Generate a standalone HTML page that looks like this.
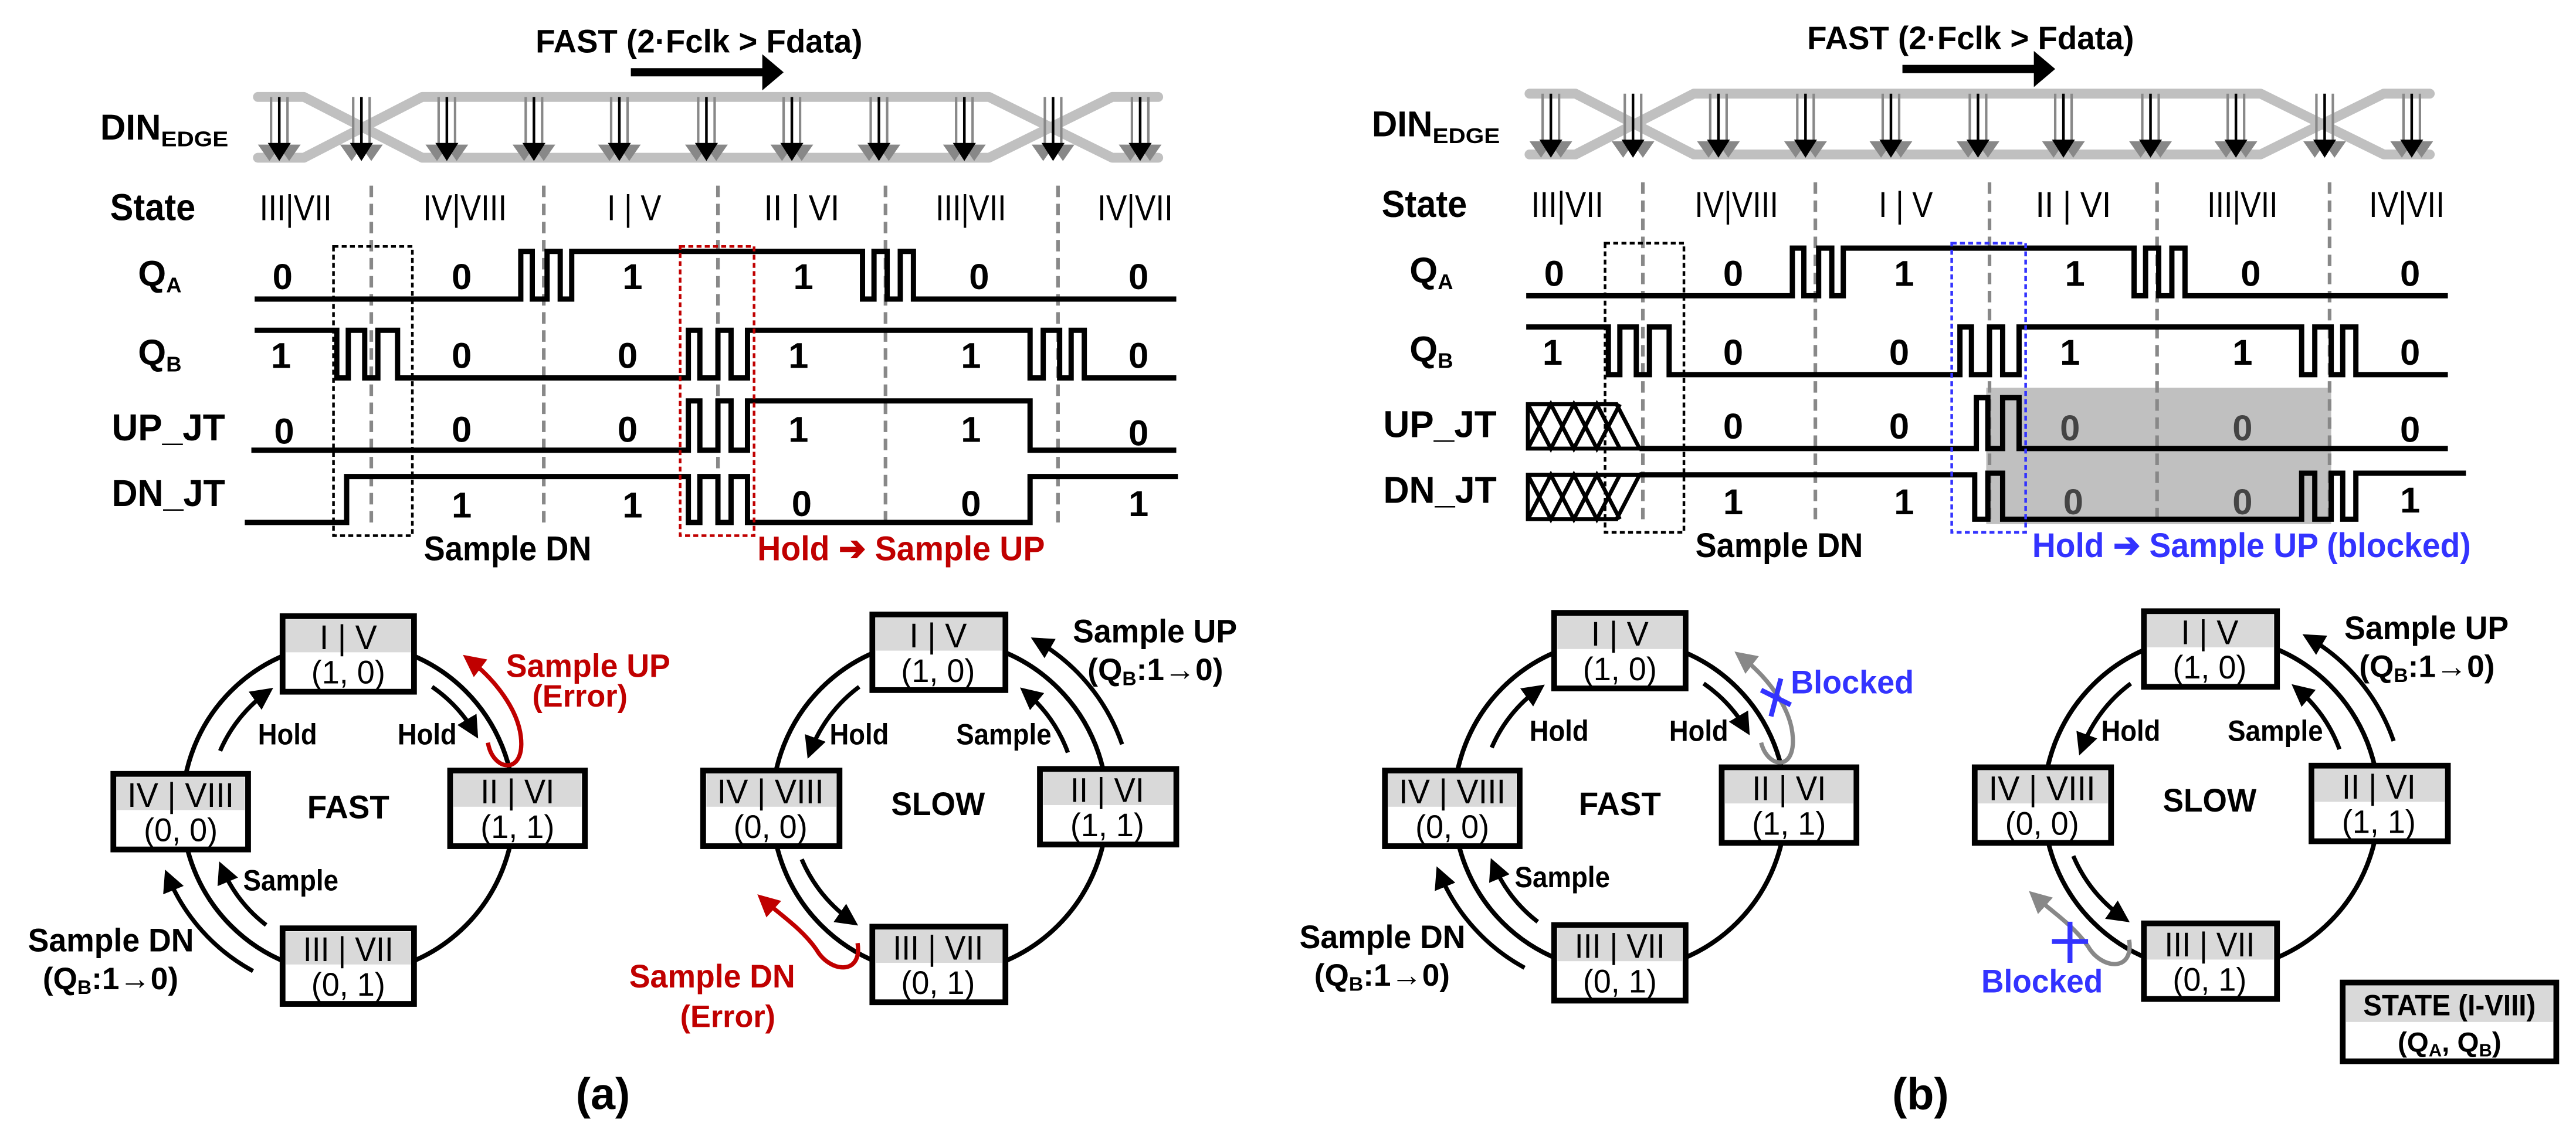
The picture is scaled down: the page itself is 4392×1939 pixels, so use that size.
<!DOCTYPE html>
<html><head><meta charset="utf-8"><style>
html,body{margin:0;padding:0;background:#fff;}
svg{display:block;}
text{font-family:"Liberation Sans Narrow","Liberation Sans",sans-serif;font-weight:bold;fill:#000;}
.r{font-weight:normal;}
</style></head><body>
<svg width="4392" height="1939" viewBox="0 0 1568 692" preserveAspectRatio="none" xmlns="http://www.w3.org/2000/svg">
<defs>
<marker id="ak" viewBox="0 0 10 10" refX="7" refY="5" markerWidth="5.2" markerHeight="5.2" orient="auto" markerUnits="strokeWidth"><path d="M0,0 L10,5 L0,10 z" fill="#000"/></marker>
<marker id="ar" viewBox="0 0 10 10" refX="7" refY="5" markerWidth="5.2" markerHeight="5.2" orient="auto" markerUnits="strokeWidth"><path d="M0,0 L10,5 L0,10 z" fill="#c00000"/></marker>
<marker id="ag" viewBox="0 0 10 10" refX="7" refY="5" markerWidth="5.2" markerHeight="5.2" orient="auto" markerUnits="strokeWidth"><path d="M0,0 L10,5 L0,10 z" fill="#888"/></marker>
<g id="clk">
<line x1="-5" y1="59" x2="-5" y2="90" stroke="#888" stroke-width="1.5"/>
<line x1="5" y1="59" x2="5" y2="90" stroke="#888" stroke-width="1.5"/>
<polygon points="-13,88 1,88 -6,98" fill="#888"/>
<polygon points="-1,88 13,88 6,98" fill="#888"/>
<line x1="0" y1="59" x2="0" y2="90" stroke="#000" stroke-width="1.6"/>
<polygon points="-7,87 7,87 0,98" fill="#000"/>
</g>
<g id="common">
<line x1="384" y1="44" x2="466" y2="44" stroke="#000" stroke-width="5"/>
<polygon points="464,33 477,44 464,55" fill="#000"/>
<path d="M157,59 H185 L257,96 H602 L677,59 H705 M157,96 H185 L257,59 H602 L677,96 H705" fill="none" stroke="#c0c0c0" stroke-width="6" stroke-linecap="round" stroke-linejoin="round"/>
<use href="#clk" x="170"/><use href="#clk" x="220"/><use href="#clk" x="272"/><use href="#clk" x="325"/><use href="#clk" x="377"/><use href="#clk" x="430"/><use href="#clk" x="482"/><use href="#clk" x="535"/><use href="#clk" x="587"/><use href="#clk" x="641"/><use href="#clk" x="694"/>
<g stroke="#888" stroke-width="2.2" stroke-dasharray="7,4">
<line x1="226" y1="113" x2="226" y2="322"/><line x1="331" y1="113" x2="331" y2="322"/><line x1="437" y1="113" x2="437" y2="322"/><line x1="539" y1="113" x2="539" y2="322"/><line x1="644" y1="113" x2="644" y2="322"/>
</g>
<path d="M155,182 H317 V153 H324 V182 H333 V153 H341 V182 H348 V153 H525 V182 H532 V153 H540 V182 H548 V153 H556 V182 H716" fill="none" stroke="#000" stroke-width="3.2"/>
<path d="M155,201 H205 V230 H212 V201 H222 V230 H230 V201 H242 V230 H419 V201 H426 V230 H437 V201 H445 V230 H455 V201 H627 V230 H635 V201 H645 V230 H652 V201 H660 V230 H716" fill="none" stroke="#000" stroke-width="3.2"/>
<rect x="203" y="150" width="48" height="176" fill="none" stroke="#000" stroke-width="1.6" stroke-dasharray="3,2"/>
<circle cx="212" cy="492" r="101" fill="none" stroke="#000" stroke-width="2.8"/>
<g fill="none" stroke="#000" stroke-width="2.6">
<path d="M134,457 A86,86 0 0 1 163,421" marker-end="url(#ak)"/>
<path d="M263,418 A88,88 0 0 1 289,446" marker-end="url(#ak)"/>
<path d="M162,563 A86,86 0 0 1 135,528" marker-end="url(#ak)"/>
<path d="M154,591 A116,116 0 0 1 102,533" marker-end="url(#ak)"/>
</g>
<circle cx="572" cy="491" r="102" fill="none" stroke="#000" stroke-width="2.8"/>
<g fill="none" stroke="#000" stroke-width="2.6">
<path d="M523,418 A87,87 0 0 0 493,458" marker-end="url(#ak)"/>
<path d="M650,458 A86,86 0 0 0 624,421" marker-end="url(#ak)"/>
<path d="M683,453 A117,117 0 0 0 631,390" marker-end="url(#ak)"/>
<path d="M488,523 A88,88 0 0 0 519,561" marker-end="url(#ak)"/>
</g>
</g>
<g id="boxes">
<g stroke="#000" stroke-width="3.5">
<rect x="172" y="375" width="80" height="46" fill="#fff"/>
<rect x="274" y="469" width="82" height="46" fill="#fff"/>
<rect x="69" y="471" width="82" height="46" fill="#fff"/>
<rect x="172" y="565" width="80" height="46" fill="#fff"/>
<rect x="531" y="374" width="81" height="46" fill="#fff"/>
<rect x="633" y="468" width="83" height="46" fill="#fff"/>
<rect x="428" y="469" width="83" height="46" fill="#fff"/>
<rect x="531" y="564" width="81" height="46" fill="#fff"/>
</g>
<g fill="#d9d9d9">
<rect x="174" y="377" width="76" height="20"/>
<rect x="276" y="471" width="78" height="20"/>
<rect x="71" y="473" width="78" height="20"/>
<rect x="174" y="567" width="76" height="20"/>
<rect x="533" y="376" width="77" height="20"/>
<rect x="635" y="470" width="79" height="20"/>
<rect x="430" y="471" width="79" height="20"/>
<rect x="533" y="566" width="77" height="20"/>
</g>
</g>
</defs>

<!-- ============ PANEL A ============ -->
<use href="#common"/>
<path d="M153,274 H419 V244 H426 V274 H437 V244 H445 V274 H455 V244 H627 V274 H716" fill="none" stroke="#000" stroke-width="3.2"/>
<path d="M149,318 H211 V290 H419 V318 H426 V290 H437 V318 H445 V290 H455 V318 H627 V290 H717" fill="none" stroke="#000" stroke-width="3.2"/>
<rect x="414" y="150" width="45" height="176" fill="none" stroke="#c00000" stroke-width="1.6" stroke-dasharray="3,2"/>
<path d="M297,452 C300,470 320,472 317,448 C315,432 302,414 285,401" fill="none" stroke="#c00000" stroke-width="2.6" marker-end="url(#ar)"/>
<path d="M522,574 C525,594 505,592 497,578 C488,565 474,556 464,547" fill="none" stroke="#c00000" stroke-width="2.6" marker-end="url(#ar)"/>
<use href="#boxes"/>

<g>
<text x="326" y="32" font-size="20" textLength="199" lengthAdjust="spacingAndGlyphs">FAST (2·Fclk &gt; Fdata)</text>
<text x="61" y="85" font-size="22" textLength="37" lengthAdjust="spacingAndGlyphs">DIN</text>
<text x="98" y="89" font-size="13" textLength="41" lengthAdjust="spacingAndGlyphs">EDGE</text>
<text x="67" y="134" font-size="23" textLength="52" lengthAdjust="spacingAndGlyphs">State</text>
<g text-anchor="middle">
<text class="r" x="180" y="134" font-size="22" textLength="44" lengthAdjust="spacingAndGlyphs">III|VII</text>
<text class="r" x="283" y="134" font-size="22" textLength="51" lengthAdjust="spacingAndGlyphs">IV|VIII</text>
<text class="r" x="386" y="134" font-size="22" textLength="33" lengthAdjust="spacingAndGlyphs">I | V</text>
<text class="r" x="488" y="134" font-size="22" textLength="46" lengthAdjust="spacingAndGlyphs">II | VI</text>
<text class="r" x="591" y="134" font-size="22" textLength="43" lengthAdjust="spacingAndGlyphs">III|VII</text>
<text class="r" x="691" y="134" font-size="22" textLength="46" lengthAdjust="spacingAndGlyphs">IV|VII</text>
</g>
<text x="84" y="174" font-size="22">Q<tspan font-size="13" dy="4">A</tspan></text>
<text x="84" y="222" font-size="22">Q<tspan font-size="13" dy="4">B</tspan></text>
<text x="68" y="268" font-size="23" textLength="69" lengthAdjust="spacingAndGlyphs">UP_JT</text>
<text x="68" y="308" font-size="23" textLength="69" lengthAdjust="spacingAndGlyphs">DN_JT</text>
<g text-anchor="middle" font-size="22">
<text x="172" y="176">0</text><text x="281" y="176">0</text><text x="385" y="176">1</text><text x="489" y="176">1</text><text x="596" y="176">0</text><text x="693" y="176">0</text>
<text x="171" y="224">1</text><text x="281" y="224">0</text><text x="382" y="224">0</text><text x="486" y="224">1</text><text x="591" y="224">1</text><text x="693" y="224">0</text>
<text x="173" y="270">0</text><text x="281" y="269">0</text><text x="382" y="269">0</text><text x="486" y="269">1</text><text x="591" y="269">1</text><text x="693" y="271">0</text>
<text x="281" y="315">1</text><text x="385" y="315">1</text><text x="488" y="314">0</text><text x="591" y="314">0</text><text x="693" y="314">1</text>
</g>
<text x="258" y="341" font-size="21" textLength="102" lengthAdjust="spacingAndGlyphs">Sample DN</text>
<text x="461" y="341" font-size="21" style="fill:#c00000" textLength="175" lengthAdjust="spacingAndGlyphs">Hold ➔ Sample UP</text>

<g text-anchor="middle">
<text class="r" x="212" y="395" font-size="21" textLength="35" lengthAdjust="spacingAndGlyphs">I | V</text>
<text class="r" x="212" y="416" font-size="20" textLength="45" lengthAdjust="spacingAndGlyphs">(1, 0)</text>
<text class="r" x="315" y="489" font-size="21" textLength="45" lengthAdjust="spacingAndGlyphs">II | VI</text>
<text class="r" x="315" y="510" font-size="20" textLength="45" lengthAdjust="spacingAndGlyphs">(1, 1)</text>
<text class="r" x="110" y="491" font-size="21" textLength="65" lengthAdjust="spacingAndGlyphs">IV | VIII</text>
<text class="r" x="110" y="512" font-size="20" textLength="45" lengthAdjust="spacingAndGlyphs">(0, 0)</text>
<text class="r" x="212" y="585" font-size="21" textLength="55" lengthAdjust="spacingAndGlyphs">III | VII</text>
<text class="r" x="212" y="606" font-size="20" textLength="45" lengthAdjust="spacingAndGlyphs">(0, 1)</text>
<text class="r" x="571" y="394" font-size="21" textLength="35" lengthAdjust="spacingAndGlyphs">I | V</text>
<text class="r" x="571" y="415" font-size="20" textLength="45" lengthAdjust="spacingAndGlyphs">(1, 0)</text>
<text class="r" x="674" y="488" font-size="21" textLength="45" lengthAdjust="spacingAndGlyphs">II | VI</text>
<text class="r" x="674" y="509" font-size="20" textLength="45" lengthAdjust="spacingAndGlyphs">(1, 1)</text>
<text class="r" x="469" y="489" font-size="21" textLength="65" lengthAdjust="spacingAndGlyphs">IV | VIII</text>
<text class="r" x="469" y="510" font-size="20" textLength="45" lengthAdjust="spacingAndGlyphs">(0, 0)</text>
<text class="r" x="571" y="584" font-size="21" textLength="55" lengthAdjust="spacingAndGlyphs">III | VII</text>
<text class="r" x="571" y="605" font-size="20" textLength="45" lengthAdjust="spacingAndGlyphs">(0, 1)</text>
<text x="212" y="498" font-size="20" textLength="50" lengthAdjust="spacingAndGlyphs">FAST</text>
<text x="571" y="496" font-size="20" textLength="57" lengthAdjust="spacingAndGlyphs">SLOW</text>
<text x="353" y="430" font-size="19" style="fill:#c00000" textLength="58" lengthAdjust="spacingAndGlyphs">(Error)</text>
<text x="443" y="625" font-size="19" style="fill:#c00000" textLength="58" lengthAdjust="spacingAndGlyphs">(Error)</text>
<text x="367" y="675" font-size="27">(a)</text>
</g>
<text x="157" y="453" font-size="18" textLength="36" lengthAdjust="spacingAndGlyphs">Hold</text>
<text x="242" y="453" font-size="18" textLength="36" lengthAdjust="spacingAndGlyphs">Hold</text>
<text x="148" y="542" font-size="18" textLength="58" lengthAdjust="spacingAndGlyphs">Sample</text>
<text x="17" y="579" font-size="20" textLength="101" lengthAdjust="spacingAndGlyphs">Sample DN</text>
<text x="26" y="602" font-size="19">(Q<tspan font-size="12" dy="3">B</tspan><tspan dy="-3">:1→0)</tspan></text>
<text x="308" y="412" font-size="20" style="fill:#c00000" textLength="100" lengthAdjust="spacingAndGlyphs">Sample UP</text>
<text x="505" y="453" font-size="18" textLength="36" lengthAdjust="spacingAndGlyphs">Hold</text>
<text x="582" y="453" font-size="18" textLength="58" lengthAdjust="spacingAndGlyphs">Sample</text>
<text x="653" y="391" font-size="20" textLength="100" lengthAdjust="spacingAndGlyphs">Sample UP</text>
<text x="662" y="414" font-size="19">(Q<tspan font-size="12" dy="3">B</tspan><tspan dy="-3">:1→0)</tspan></text>
<text x="383" y="601" font-size="20" style="fill:#c00000" textLength="101" lengthAdjust="spacingAndGlyphs">Sample DN</text>
</g>

<!-- ============ PANEL B ============ -->
<g transform="translate(774,-2)">
<rect x="435" y="238" width="210" height="83" fill="#c0c0c0"/>
<use href="#common"/>
<g fill="none" stroke="#000" stroke-width="2.4">
<path d="M156,248 H210 L224,275 H156 Z M156,248 L170,275 L184,248 L198,275 L212,248 M156,275 L170,248 L184,275 L198,248 L212,275"/>
<path d="M156,291 H224 L210,318 H156 Z M156,291 L170,318 L184,291 L198,318 L212,291 M156,318 L170,291 L184,318 L198,291 L212,318"/>
</g>
<path d="M224,275 H429 V244 H436 V275 H445 V244 H455 V275 H716" fill="none" stroke="#000" stroke-width="3.2"/>
<path d="M224,291 H428 V318 H436 V290 H445 V318 H627 V290 H635 V318 H645 V290 H652 V318 H660 V290 H727" fill="none" stroke="#000" stroke-width="3.2"/>
<rect x="414" y="150" width="45" height="176" fill="none" stroke="#3333ff" stroke-width="1.6" stroke-dasharray="3,2"/>
<path d="M298,454 C302,470 320,472 317,448 C315,432 302,414 285,401" fill="none" stroke="#888" stroke-width="2.6" marker-end="url(#ag)"/>
<path d="M522,574 C525,594 505,592 497,578 C488,565 474,556 464,547" fill="none" stroke="#888" stroke-width="2.6" marker-end="url(#ag)"/>
<use href="#boxes"/>
<g stroke="#3333ff" stroke-width="3">
<line x1="298" y1="422" x2="316" y2="431"/><line x1="310" y1="415" x2="304" y2="438"/>
<line x1="486" y1="563" x2="486" y2="588"/><line x1="475" y1="575" x2="497" y2="575"/>
</g>

<text x="326" y="32" font-size="20" textLength="199" lengthAdjust="spacingAndGlyphs">FAST (2·Fclk &gt; Fdata)</text>
<text x="61" y="85" font-size="22" textLength="37" lengthAdjust="spacingAndGlyphs">DIN</text>
<text x="98" y="89" font-size="13" textLength="41" lengthAdjust="spacingAndGlyphs">EDGE</text>
<text x="67" y="134" font-size="23" textLength="52" lengthAdjust="spacingAndGlyphs">State</text>
<g text-anchor="middle">
<text class="r" x="180" y="134" font-size="22" textLength="44" lengthAdjust="spacingAndGlyphs">III|VII</text>
<text class="r" x="283" y="134" font-size="22" textLength="51" lengthAdjust="spacingAndGlyphs">IV|VIII</text>
<text class="r" x="386" y="134" font-size="22" textLength="33" lengthAdjust="spacingAndGlyphs">I | V</text>
<text class="r" x="488" y="134" font-size="22" textLength="46" lengthAdjust="spacingAndGlyphs">II | VI</text>
<text class="r" x="591" y="134" font-size="22" textLength="43" lengthAdjust="spacingAndGlyphs">III|VII</text>
<text class="r" x="691" y="134" font-size="22" textLength="46" lengthAdjust="spacingAndGlyphs">IV|VII</text>
</g>
<text x="84" y="174" font-size="22">Q<tspan font-size="13" dy="4">A</tspan></text>
<text x="84" y="222" font-size="22">Q<tspan font-size="13" dy="4">B</tspan></text>
<text x="68" y="268" font-size="23" textLength="69" lengthAdjust="spacingAndGlyphs">UP_JT</text>
<text x="68" y="308" font-size="23" textLength="69" lengthAdjust="spacingAndGlyphs">DN_JT</text>
<g text-anchor="middle" font-size="22">
<text x="172" y="176">0</text><text x="281" y="176">0</text><text x="385" y="176">1</text><text x="489" y="176">1</text><text x="596" y="176">0</text><text x="693" y="176">0</text>
<text x="171" y="224">1</text><text x="281" y="224">0</text><text x="382" y="224">0</text><text x="486" y="224">1</text><text x="591" y="224">1</text><text x="693" y="224">0</text>
<text x="281" y="269">0</text><text x="382" y="269">0</text><text x="486" y="270" style="fill:#444">0</text><text x="591" y="270" style="fill:#444">0</text><text x="693" y="271">0</text>
<text x="281" y="315">1</text><text x="385" y="315">1</text><text x="488" y="315" style="fill:#444">0</text><text x="591" y="315" style="fill:#444">0</text><text x="693" y="314">1</text>
</g>
<text x="258" y="341" font-size="21" textLength="102" lengthAdjust="spacingAndGlyphs">Sample DN</text>
<text x="463" y="341" font-size="21" style="fill:#3333ff" textLength="267" lengthAdjust="spacingAndGlyphs">Hold ➔ Sample UP (blocked)</text>

<g text-anchor="middle">
<text class="r" x="212" y="395" font-size="21" textLength="35" lengthAdjust="spacingAndGlyphs">I | V</text>
<text class="r" x="212" y="416" font-size="20" textLength="45" lengthAdjust="spacingAndGlyphs">(1, 0)</text>
<text class="r" x="315" y="489" font-size="21" textLength="45" lengthAdjust="spacingAndGlyphs">II | VI</text>
<text class="r" x="315" y="510" font-size="20" textLength="45" lengthAdjust="spacingAndGlyphs">(1, 1)</text>
<text class="r" x="110" y="491" font-size="21" textLength="65" lengthAdjust="spacingAndGlyphs">IV | VIII</text>
<text class="r" x="110" y="512" font-size="20" textLength="45" lengthAdjust="spacingAndGlyphs">(0, 0)</text>
<text class="r" x="212" y="585" font-size="21" textLength="55" lengthAdjust="spacingAndGlyphs">III | VII</text>
<text class="r" x="212" y="606" font-size="20" textLength="45" lengthAdjust="spacingAndGlyphs">(0, 1)</text>
<text class="r" x="571" y="394" font-size="21" textLength="35" lengthAdjust="spacingAndGlyphs">I | V</text>
<text class="r" x="571" y="415" font-size="20" textLength="45" lengthAdjust="spacingAndGlyphs">(1, 0)</text>
<text class="r" x="674" y="488" font-size="21" textLength="45" lengthAdjust="spacingAndGlyphs">II | VI</text>
<text class="r" x="674" y="509" font-size="20" textLength="45" lengthAdjust="spacingAndGlyphs">(1, 1)</text>
<text class="r" x="469" y="489" font-size="21" textLength="65" lengthAdjust="spacingAndGlyphs">IV | VIII</text>
<text class="r" x="469" y="510" font-size="20" textLength="45" lengthAdjust="spacingAndGlyphs">(0, 0)</text>
<text class="r" x="571" y="584" font-size="21" textLength="55" lengthAdjust="spacingAndGlyphs">III | VII</text>
<text class="r" x="571" y="605" font-size="20" textLength="45" lengthAdjust="spacingAndGlyphs">(0, 1)</text>
<text x="212" y="498" font-size="20" textLength="50" lengthAdjust="spacingAndGlyphs">FAST</text>
<text x="571" y="496" font-size="20" textLength="57" lengthAdjust="spacingAndGlyphs">SLOW</text>
<text x="395" y="677" font-size="27">(b)</text>
</g>
<text x="157" y="453" font-size="18" textLength="36" lengthAdjust="spacingAndGlyphs">Hold</text>
<text x="242" y="453" font-size="18" textLength="36" lengthAdjust="spacingAndGlyphs">Hold</text>
<text x="148" y="542" font-size="18" textLength="58" lengthAdjust="spacingAndGlyphs">Sample</text>
<text x="17" y="579" font-size="20" textLength="101" lengthAdjust="spacingAndGlyphs">Sample DN</text>
<text x="26" y="602" font-size="19">(Q<tspan font-size="12" dy="3">B</tspan><tspan dy="-3">:1→0)</tspan></text>
<text x="316" y="424" font-size="20" style="fill:#3333ff" textLength="75" lengthAdjust="spacingAndGlyphs">Blocked</text>
<text x="505" y="453" font-size="18" textLength="36" lengthAdjust="spacingAndGlyphs">Hold</text>
<text x="582" y="453" font-size="18" textLength="58" lengthAdjust="spacingAndGlyphs">Sample</text>
<text x="653" y="391" font-size="20" textLength="100" lengthAdjust="spacingAndGlyphs">Sample UP</text>
<text x="662" y="414" font-size="19">(Q<tspan font-size="12" dy="3">B</tspan><tspan dy="-3">:1→0)</tspan></text>
<text x="432" y="606" font-size="20" style="fill:#3333ff" textLength="74" lengthAdjust="spacingAndGlyphs">Blocked</text>
</g>

<rect x="1426" y="598" width="130" height="48" fill="#fff" stroke="#000" stroke-width="3.5"/>
<rect x="1428" y="600" width="126" height="22" fill="#d9d9d9"/>
<text x="1491" y="618" font-size="18" text-anchor="middle" textLength="105" lengthAdjust="spacingAndGlyphs">STATE (I-VIII)</text>
<text x="1491" y="640" font-size="17" text-anchor="middle">(Q<tspan font-size="11" dy="3">A</tspan><tspan dy="-3">, Q</tspan><tspan font-size="11" dy="3">B</tspan><tspan dy="-3">)</tspan></text>
</svg>
</body></html>
